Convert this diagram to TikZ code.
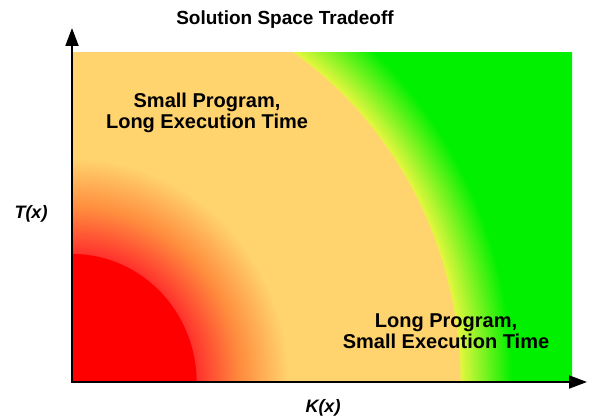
\documentclass[tikz,border=0pt]{standalone}
\usepackage{fontspec}
\setmainfont{Liberation Sans}
\usetikzlibrary{arrows.meta}
\definecolor{corered}{RGB}{255,0,0}
\definecolor{edgered}{RGB}{255,50,45}
\definecolor{midorange}{RGB}{255,140,62}
\definecolor{plateau}{RGB}{255,211,110}
\definecolor{edgeyellow}{RGB}{228,246,62}
\definecolor{fastgreen}{RGB}{0,240,0}
\pgfdeclareradialshading{tradeoff}{\pgfpointorigin}{%
  color(0pt)=(corered); color(124pt)=(corered); color(124.5pt)=(edgered);
  color(168pt)=(midorange); color(216pt)=(plateau); color(388pt)=(plateau);
  color(388.5pt)=(edgeyellow); color(440pt)=(fastgreen); color(620pt)=(fastgreen)}
\begin{document}
\begin{tikzpicture}[x=1pt, y=-1pt, line join=round,
    axis/.style={line width=2pt, -{Triangle[length=18pt,width=13pt]}},
    title/.style={font=\fontsize{19}{21}\selectfont\bfseries, inner sep=0pt, anchor=base},
    axislabel/.style={font=\fontsize{18}{20}\selectfont\bfseries\itshape, inner sep=0pt, anchor=base},
    region/.style={font=\fontsize{20}{21}\selectfont\bfseries, align=center, inner sep=0pt}]
	\useasboundingbox (0,0) rectangle (589,419);
	\def\ox{72}
	\def\oy{382}
	\def\xmax{572}
	\def\ytop{53}
	\begin{scope}
		\clip (\ox,\ytop) rectangle (\xmax,\oy);
		\node[inner sep=0pt, yscale=1.035, transform shape] (space) at (\ox,\oy) {\pgfuseshading{tradeoff}};
	\end{scope}
	\coordinate (O) at (\ox,\oy+1);
	\coordinate (Oh) at (\ox-1,\oy);
	\coordinate (ytip) at (\ox,28);
	\coordinate (xtip) at (587,\oy);
	\draw[axis] (O) -- (ytip);
	\draw[axis] (Oh) -- (xtip);
	\node[title] (title) at (285,25) {Solution Space Tradeoff};
	\node[axislabel] (tx) at (31,219) {T(x)};
	\node[axislabel] (kx) at (323,413) {K(x)};
	\node[region] (smallprog) at (207,112.7) {Small Program,\\Long Execution Time};
	\node[region] (longprog) at (446,331.5) {Long Program,\\Small Execution Time};
\end{tikzpicture}
\end{document}
